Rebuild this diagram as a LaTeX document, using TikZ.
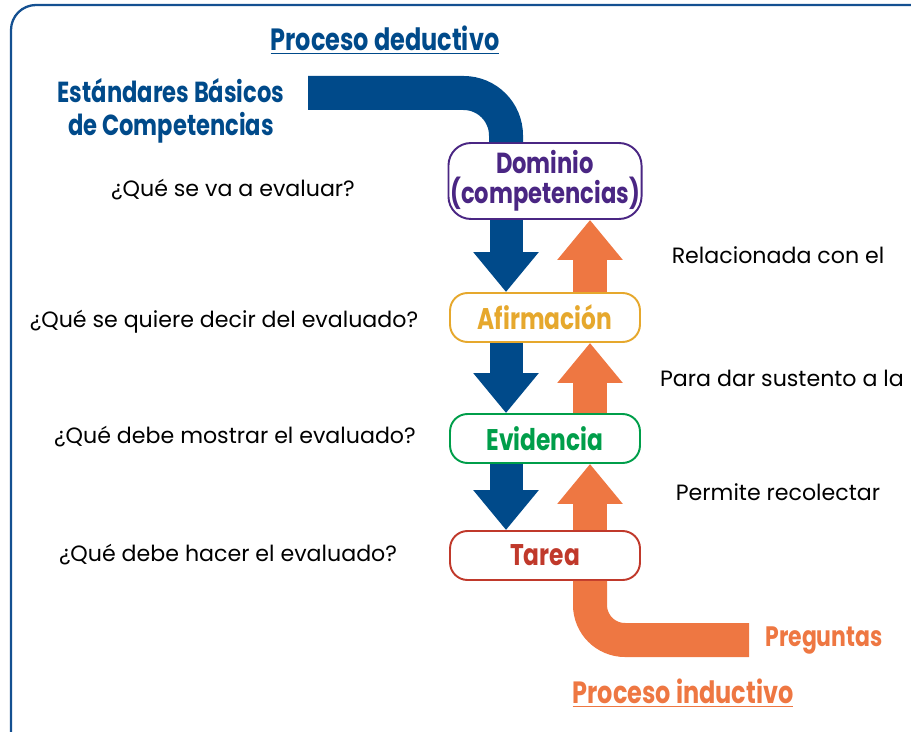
\documentclass[tikz,border=0pt]{standalone}
\usepackage{fontspec}
\setmainfont{Poppins}[BoldFeatures={FakeStretch=0.78}]
\usetikzlibrary{arrows.meta, positioning, calc}

\definecolor{azul}{RGB}{0,74,138}
\definecolor{marco}{RGB}{20,80,145}
\definecolor{naranja}{RGB}{238,119,66}
\definecolor{morado}{RGB}{74,38,131}
\definecolor{amarillo}{RGB}{230,168,45}
\definecolor{verde}{RGB}{0,158,74}
\definecolor{rojo}{RGB}{192,57,43}

\begin{document}
\begin{tikzpicture}[
    x=0.02cm, y=-0.02cm,
    caja/.style={rectangle, draw, fill=white, line width=1.1pt, rounded corners=0.35cm, minimum width=3.8cm, minimum height=0.98cm, align=center, inner sep=1pt, font=\fontsize{17}{17}\selectfont\bfseries},
    titulo/.style={font=\fontsize{17.5}{18.7}\selectfont\bfseries, align=center},
    pregunta/.style={font=\fontsize{12.6}{14}\selectfont, text=black},
    bajada/.style={-{Triangle[length=0.8cm, width=1.26cm]}, line width=0.66cm, color=azul},
    subida/.style={-{Triangle[length=0.8cm, width=1.26cm]}, line width=0.68cm, color=naranja},
    banda/.style={line width=0.68cm}
]
    \useasboundingbox (0,0) rectangle (911,732);
    \draw[color=marco, line width=1.3pt, rounded corners=0.5cm] (11,5) rectangle (945,765);

    % Niveles
    \node[caja, draw=morado, text=morado, minimum height=1.52cm, rounded corners=0.45cm, font=\fontsize{16.5}{17}\selectfont\bfseries] (dominio) at (545,181) {Dominio\\(competencias)};
    \node[caja, draw=amarillo, text=amarillo] (afirmacion) at (545,317.5) {Afirmación};
    \node[caja, draw=verde, text=verde] (evidencia) at (545,438.5) {Evidencia};
    \node[caja, draw=rojo, text=rojo] (tarea) at (545,555.5) {Tarea};

    % Preguntas de la izquierda
    \node[pregunta] (q1) at (233,190) {¿Qué se va a evaluar?};
    \node[pregunta] (q2) at (224,322) {¿Qué se quiere decir del evaluado?};
    \node[pregunta] (q3) at (235,437) {¿Qué debe mostrar el evaluado?};
    \node[pregunta] (q4) at (228,555) {¿Qué debe hacer el evaluado?};

    % Textos de la derecha
    \node[pregunta] (r1) at (778,255) {Relacionada con el};
    \node[pregunta] (r2) at (782,378) {Para dar sustento a la};
    \node[pregunta] (r3) at (778,492) {Permite recolectar};

    % Procesos
    \node[titulo, text=azul] (deductivo) at (385,40) {\underline{Proceso deductivo}};
    \node[titulo, text=azul, font=\fontsize{16.5}{18.7}\selectfont\bfseries] (estandares) at (171,111) {Estándares Básicos\\de Competencias};
    \node[titulo, text=naranja, font=\fontsize{16}{18}\selectfont\bfseries] (preguntas) at (824,640) {Preguntas};
    \node[titulo, text=naranja] (inductivo) at (683,693) {\underline{Proceso inductivo}};

    \coordinate (inicio) at (308,93);
    \coordinate (fin) at (749,640);

    % Bandas
    \draw[banda, color=azul, rounded corners=0.85cm] (inicio) -| ($(dominio.north)+(-39,0)$);
    \draw[banda, color=naranja, rounded corners=0.7cm] ($(tarea.south)+(45,0)$) |- (fin);

    % Flechas hacia abajo
    \draw[bajada] ($(dominio.south)+(-39,0)$) -- ($(afirmacion.north)+(-39,0)$);
    \draw[bajada] ($(afirmacion.south)+(-39,0)$) -- ($(evidencia.north)+(-39,0)$);
    \draw[bajada] ($(evidencia.south)+(-39,0)$) -- ($(tarea.north)+(-39,0)$);

    % Flechas hacia arriba
    \draw[subida] ($(tarea.north)+(45,0)$) -- ($(evidencia.south)+(45,0)$);
    \draw[subida] ($(evidencia.north)+(45,0)$) -- ($(afirmacion.south)+(45,0)$);
    \draw[subida] ($(afirmacion.north)+(45,0)$) -- ($(dominio.south)+(45,0)$);
\end{tikzpicture}
\end{document}
